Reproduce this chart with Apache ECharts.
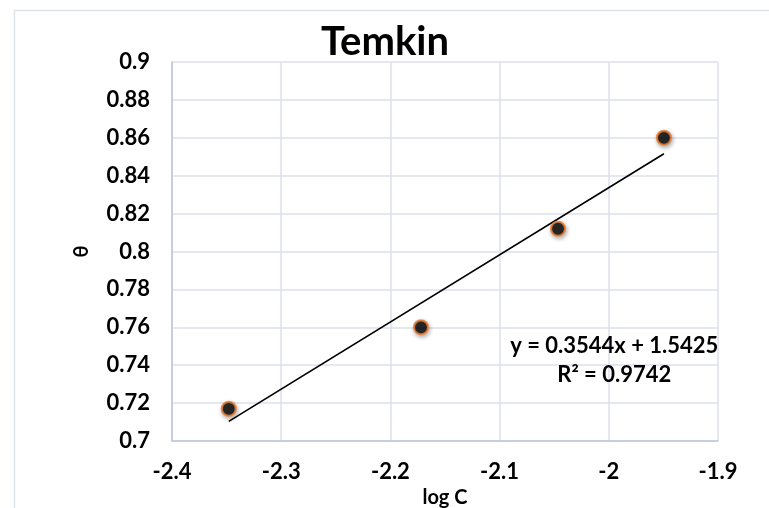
<!DOCTYPE html>
<html>
<head>
<meta charset="utf-8">
<script src="https://cdn.jsdelivr.net/npm/echarts@6/dist/echarts.min.js"></script>
<style>
  html, body { margin: 0; padding: 0; background: #fff; }
  #chart { width: 769px; height: 508px; }
</style>
</head>
<body>
<div id="chart"></div>
<script>
// 数据
var logC = [-2.348, -2.172, -2.0465, -1.9495];
var theta = [0.717, 0.760, 0.812, 0.860];
var slope = 0.3544, intercept = 1.5425;
var eqnText = ['y = 0.3544x + 1.5425', 'R² = 0.9742'];

var points = logC.map(function (x, i) { return [x, theta[i]]; });
var xFirst = logC[0], xLast = logC[logC.length - 1];
var trend = [[xFirst, slope * xFirst + intercept], [xLast, slope * xLast + intercept]];

var font = 'Lato, "Open Sans", sans-serif';
var myChart = echarts.init(document.getElementById('chart'));
var option = {
    backgroundColor: '#fff',
    animation: false,
    title: {
        text: 'Temkin',
        left: 380, top: 17, textAlign: 'center',
        textStyle: { fontFamily: font, fontWeight: 'bold', fontSize: 40, color: '#000' }
    },
    graphic: [{
        type: 'rect',
        shape: { x: 14.5, y: 10.5, width: 800, height: 600 },
        style: { fill: 'none', stroke: '#dfe3ec', lineWidth: 1.5 },
        silent: true
    }],
    grid: { left: 172, right: 51, top: 62, bottom: 67, outerBoundsMode: 'none', containLabel: false },
    xAxis: {
        type: 'value', min: -2.4, max: -1.9, interval: 0.1,
        name: 'log C', nameLocation: 'middle', nameGap: 43,
        nameTextStyle: { fontFamily: font, fontWeight: 'bold', fontSize: 20, color: '#000' },
        axisLine: { onZero: false, lineStyle: { color: '#bcc5da', width: 1.5 } },
        axisTick: { show: false },
        axisLabel: { fontFamily: font, fontWeight: 'bold', fontSize: 22, color: '#000', margin: 20,
            formatter: function (v) { return String(Math.round(v * 10) / 10); } },
        splitLine: { lineStyle: { color: '#dde1ea', width: 1.5 } }
    },
    yAxis: {
        type: 'value', min: 0.7, max: 0.9, interval: 0.02,
        name: 'θ', nameLocation: 'middle', nameGap: 80, nameRotate: 90,
        nameTextStyle: { fontFamily: font, fontWeight: 'bold', fontSize: 20, color: '#000' },
        axisLine: { show: true, lineStyle: { color: '#bcc5da', width: 1.5 } },
        axisTick: { show: false },
        axisLabel: { fontFamily: font, fontWeight: 'bold', fontSize: 22, color: '#000', margin: 22,
            formatter: function (v) { return String(Math.round(v * 100) / 100); } },
        splitLine: { lineStyle: { color: '#dde1ea', width: 1.5 } }
    },
    series: [{
        type: 'line',
        data: trend,
        symbol: 'none',
        lineStyle: { color: '#000', width: 1.6 },
        z: 2,
        markPoint: {
            symbol: 'rect', symbolSize: 0,
            data: [{
                coord: [-1.995, 0.7427],
                label: {
                    show: true, formatter: eqnText.join('\n'), align: 'center',
                    fontFamily: font, fontWeight: 'bold', fontSize: 22, lineHeight: 29, color: '#000'
                }
            }]
        }
    }, {
        type: 'scatter',
        data: points,
        symbol: 'circle',
        symbolSize: 14,
        itemStyle: {
            color: '#000', borderColor: '#ed7d31', borderWidth: 2.2,
            shadowBlur: 4, shadowColor: 'rgba(0,0,0,0.35)', shadowOffsetX: 1, shadowOffsetY: 2
        },
        z: 3
    }]
};
myChart.setOption(option);
</script>
</body>
</html>
